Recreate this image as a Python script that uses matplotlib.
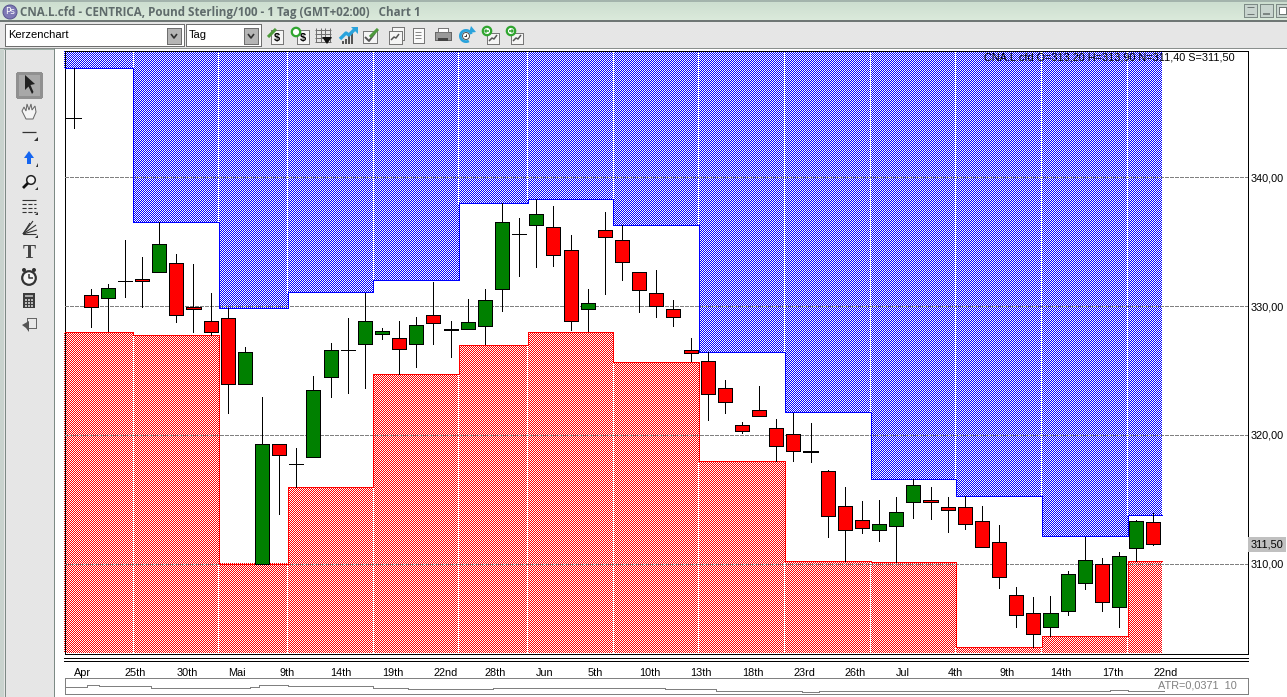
import numpy as np
import matplotlib
matplotlib.use("Agg")
import matplotlib.pyplot as plt
from matplotlib.patches import Rectangle, Polygon, Circle, Wedge
from matplotlib.transforms import blended_transform_factory

plt.rcParams['font.family'] = ['Liberation Sans', 'DejaVu Sans']

# ---------- data ----------
open_ = [344.63,330.88,330.65,331.97,332.11,332.67,333.36,329.93,328.86,329.09,323.96,310.00,319.30,317.75,318.26,324.48,
         326.60,327.04,327.85,327.54,327.04,329.32,328.25,328.24,328.47,331.34,335.62,336.32,336.16,334.37,329.79,335.93,
         335.15,332.67,331.03,329.79,326.60,325.75,323.65,320.78,321.94,320.54,320.08,318.77,317.20,314.48,313.40,312.62,
         312.93,314.79,314.95,314.41,314.41,313.32,311.69,307.57,306.17,305.08,306.32,308.50,309.98,306.64,311.22,313.20]
high_ = [348.48,331.29,331.68,335.10,333.85,336.52,334.01,333.31,330.98,329.89,326.86,322.90,319.30,318.94,324.53,327.17,
         329.11,330.98,328.26,328.88,329.19,331.91,328.88,330.59,331.29,338.00,336.86,338.34,337.74,335.49,331.29,337.35,
         336.34,332.67,332.77,330.51,327.56,326.45,324.22,321.01,323.83,321.19,321.68,320.88,317.30,315.98,314.82,314.97,
         315.13,316.55,315.98,315.13,315.21,314.43,313.03,308.14,307.36,307.51,309.43,312.07,310.39,310.93,313.40,313.90]
low_ = [343.82,328.34,328.03,330.69,329.91,332.67,328.75,327.95,327.79,321.68,323.96,310.00,313.81,315.93,318.26,322.92,
        323.23,323.62,327.43,324.76,325.25,327.04,326.03,328.24,327.02,329.60,332.32,333.02,333.10,328.13,328.03,330.92,
        332.01,329.53,329.14,328.44,325.70,321.13,321.68,320.16,321.48,317.98,318.00,317.87,312.04,310.23,312.35,311.73,
        310.13,313.52,313.44,312.43,312.67,311.30,308.08,305.05,303.53,304.38,305.98,308.00,306.29,305.05,310.21,311.40]
close_ = [344.63,329.95,331.42,331.97,331.95,334.84,329.32,329.77,327.97,323.96,326.45,319.30,318.41,317.75,323.50,326.60,
          326.60,328.86,328.08,326.68,328.55,328.70,328.17,328.78,330.49,336.55,335.62,337.17,333.99,328.86,330.26,335.38,
          333.44,331.27,330.02,329.17,326.37,323.19,322.56,320.31,321.48,319.15,318.76,318.69,313.71,312.62,312.77,313.08,
          314.02,316.11,314.79,314.17,313.08,311.30,308.97,306.01,304.54,306.17,309.20,310.29,307.02,310.60,313.32,311.50]

band_edges = [-0.53,3.5,8.5,12.5,17.5,22.5,26.5,31.5,36.5,41.5,46.5,51.5,56.5,61.5,63.5]
upper_band = [348.48,336.57,329.87,331.06,331.99,338.03,338.36,336.34,326.45,321.76,316.60,315.21,312.10,313.78]
lower_band = [328.00,327.77,310.00,315.93,324.74,326.99,328.00,325.67,317.98,310.20,310.12,303.53,304.38,310.21]

tick_labels = ['Apr','25th','30th','Mai','9th','14th','19th','22nd','28th','Jun','5th','10th','13th','18th','23rd',
               '26th','Jul','4th','9th','14th','17th','22nd']
price_ticks = [310,320,330,340]

atr_edges = [-0.53,0.3,0.8,1.5,4.5,10.3,10.8,12.5,17.5,19.5,22.5,24.5,34.5,37.5,42.5,43.5,49.5,60.5,61.5,63.6]
atr_values = [.0571,.0601,.0671,.0621,.0551,.0601,.0671,.0621,.0551,.0501,.0471,.0526,.0476,.0406,.0356,.0406,.0366,.0421,.0371]

W, H = 1287, 697
PX = 0.72
FS = 7.8
fig = plt.figure(figsize=(W/100, H/100), dpi=100, facecolor='white')

# ---------- window chrome ----------
bg = fig.add_axes([0, 0, 1, 1], zorder=0)
bg.set_xlim(0, W); bg.set_ylim(H, 0); bg.axis('off'); bg.autoscale(False)

def R(x, y, w, h, fc='none', ec='none', lw=PX, z=1):
    bg.add_patch(Rectangle((x, y), w, h, fc=fc, ec=ec, lw=lw, zorder=z, antialiased=False))
def L(xs, ys, c='k', lw=PX, z=2, aa=True, ls='-'):
    bg.plot(xs, ys, color=c, lw=lw, zorder=z, antialiased=aa, ls=ls, solid_capstyle='butt')
def P(pts, fc, ec='none', z=2, lw=PX):
    bg.add_patch(Polygon(pts, closed=True, fc=fc, ec=ec, lw=lw, zorder=z))
def C(x, y, r, fc='none', ec='none', lw=PX, z=2):
    bg.add_patch(Circle((x, y), r, fc=fc, ec=ec, lw=lw, zorder=z))

grad = np.linspace(0, 1, 20)[:, None, None] * (np.array([220, 235, 220]) - np.array([205, 222, 208])) + np.array([205, 222, 208])
bg.imshow(grad.astype(np.uint8), extent=(0, W, 21, 2), aspect='auto', zorder=1, interpolation='bilinear')
bg.set_xlim(0, W); bg.set_ylim(H, 0)
R(0, 0, W, 2, fc='#A3B3AC')
R(0, 21, W, 27, fc='#E6E6E6')
L([0, W], [20.5, 20.5], c='#6F7775', lw=1.4, aa=False)
L([0, W], [47.5, 47.5], c='#8A8F8D', lw=PX, aa=False)
R(0, 48, 54, H-48, fc='#E6E6E6')
R(0, 48, 4, H-48, fc='#C9D3CE')
L([4.5, 4.5], [48, H], c='#7D8A85', aa=False)
L([53.5, 53.5], [48, H], c='#7D8A85', aa=False)
L([4, 53], [48.5, 48.5], c='#9FB0A8', aa=False)

C(10, 12, 7, fc='#7E79B5', ec='#5A5690')
bg.text(10, 12, 'Ps', color='white', fontsize=6.5, ha='center', va='center', zorder=3, family='DejaVu Sans')
bg.text(20, 12.5, 'CNA.L.cfd - CENTRICA, Pound Sterling/100 - 1 Tag (GMT+02:00)   Chart 1', color='#5F6B6B',
        fontsize=8.35, fontweight='bold', ha='left', va='center', zorder=3, family='Open Sans')
for x in (1244, 1260, 1276):
    R(x, 4, 13, 13, fc='#C8D4CE', ec='#7D8A85', z=2)
L([1247, 1254], [7, 7], c='#6F7775'); L([1247, 1254], [14, 14], c='#6F7775')
L([1263, 1270], [13.5, 13.5], c='#6F7775', lw=1.2)
R(1279, 7, 7, 7, fc='white', ec='#6F7775', z=3)

# combo boxes
for x0, x1, bx, label in ((5, 184, 167, 'Kerzenchart'), (186, 261, 244, 'Tag')):
    R(x0, 24, x1-x0, 22, fc='white', ec='#6E6E6E', lw=PX)
    R(bx, 28, 14, 16, fc='#B5B5B5', ec='#6E6E6E')
    L([bx+4, bx+7, bx+10], [34, 38, 34], c='#303030', lw=1.2)
    bg.text(x0+3, 35, label, fontsize=8.0, va='center', ha='left', zorder=3)

# toolbar icons
def doc(x, y, w=12, h=14, fc='#F5F5F5'):
    R(x-w/2, y-h/2, w, h, fc=fc, ec='#777777', z=2)
def trend(x, y):
    L([x-4, x-1, x+1, x+4], [y+3, y, y+1, y-3], c='#555555', lw=1.1, z=3)
def ring(x, y):
    C(x, y, 4.2, fc='white', ec='#2FA52F', lw=1.6, z=4)

doc(277, 37); bg.text(277, 38, '$', fontsize=8, ha='center', va='center', fontweight='bold', zorder=4)
L([268, 276], [37, 29], c='#4E9A3C', lw=2.2, z=5)
doc(303, 37); bg.text(303, 38, '$', fontsize=8, ha='center', va='center', fontweight='bold', zorder=3); ring(296, 32)
for k in range(4):
    L([316+k*4.5, 316+k*4.5], [28, 42], c='#707070', z=2)
    L([315, 331], [30+k*4, 30+k*4], c='#707070', z=2)
P([(322, 37), (332, 37), (327, 44)], '#111111', z=3)
for k, hgt in enumerate((3, 5, 8, 11)):
    R(342+k*3, 44-hgt, 2, hgt, fc='#555555', z=2)
L([340, 346, 349, 355], [39, 33, 35, 29], c='#2AA3DC', lw=2.4, z=3)
P([(351, 27), (358, 27), (358, 34)], '#2AA3DC', z=3)
doc(370, 37, 14, 12); L([365, 369, 375], [37, 41, 33], c='#555555', lw=1.4, z=3); L([370, 378, ], [37, 29], c='#4E9A3C', lw=2.2, z=4)
doc(398, 33, 12, 13); doc(395, 37, 13, 13); trend(395, 37)
doc(418, 35, 11, 15, '#FAFAFA')
for yy in (32, 35, 38):
    L([415, 421], [yy, yy], c='#888888', z=3)
R(435, 32, 16, 8, fc='#9A9A9A', ec='#666666', z=2); R(438, 28, 10, 4, fc='white', ec='#777777', z=3); R(438, 38, 10, 3, fc='#444444', z=3)
bg.add_patch(Wedge((466, 36), 7, 60, 340, width=2.8, fc='#2AA3DC', zorder=3))
C(466, 36, 3.5, fc='white', ec='#555555', z=4); L([466, 466, 463.5], [33.5, 36, 36], c='#333333', z=5)
P([(471, 26), (476, 32), (469, 33)], '#2AA3DC', z=3)
for x, d in ((490, -1), (514, 1)):
    doc(x+3, 38, 12, 11); trend(x+3, 38); ring(x-3, 31)
    L([x-5, x-1], [31, 31], c='#2FA52F', lw=1.1, z=5)
    P([(x-3+d*3, 31), (x-3+d*0.5, 28.5), (x-3+d*0.5, 33.5)], '#2FA52F', z=5)

# tool palette
R(17, 73, 24, 24, fc='#A8A8A8', ec='#909090', lw=1.0)
P([(25, 75), (25, 90), (28.5, 86.5), (32, 94), (33.5, 92), (30.5, 85), (35, 84)], '#202020', z=3)
P([(22, 111), (24, 107), (26, 111), (27, 104), (29, 110), (31, 104), (32, 110), (35, 106), (36, 112), (33, 119), (26, 119)],
  '#F4F4F4', ec='#666666', z=3)
L([22, 36], [132, 132], c='#333333', lw=0.9)
P([(34, 141), (38, 141), (38, 137)], '#333333')
P([(29, 151), (34, 158), (31, 158), (31, 164), (27, 164), (27, 158), (24, 158)], '#1565F0')
P([(36, 167), (38, 167), (38, 163)], '#333333')
C(31, 180, 4.3, fc='#F2F2F2', ec='#222222', lw=1.1); L([23, 28], [188, 183], c='#111111', lw=2)
P([(35, 190), (38, 190), (38, 187)], '#333333')
for yy, ls in ((200, '-'), (204, '--'), (208, '--'), (212, '--')):
    L([22, 36], [yy, yy], c='#333333', ls=ls, lw=0.8)
P([(35, 215), (38, 215), (38, 212)], '#333333')
for a, b in ((33, 221), (36, 225), (37, 230), (36, 234), (30, 223)):
    L([23, a], [234, b], c='#333333', lw=0.8)
P([(35, 238), (38, 238), (38, 235)], '#333333')
bg.text(29, 254, 'T', family='Liberation Serif', fontsize=14, fontweight='bold', color='#444444', ha='center', va='center', zorder=3)
C(29, 278, 6.8, fc='#F4F4F4', ec='#333333', lw=1.6); L([29, 29, 33], [274, 278, 278], c='#333333', lw=1.1, z=3)
C(24, 270, 2, fc='#333333'); C(34, 270, 2, fc='#333333')
R(23, 293, 12, 15, fc='#3C3C3C')
R(25, 295, 8, 2, fc='#AAAAAA', z=2)
for r_ in range(3):
    for c_ in range(3):
        R(25+c_*3, 299+r_*3, 2, 2, fc='#BBBBBB', z=2)
R(27, 318, 9, 10, fc='#E8E8E8', ec='#666666')
P([(22, 325), (29, 321), (29, 332), (26, 328)], '#555555', z=3)

# panel frame lines below the chart
L([64, 1248], [657.5, 657.5], c='k', aa=False)
L([64, 1248], [660.5, 660.5], c='k', aa=False)

# ---------- main chart ----------
XL, XR, YT, YB = 64.5, 1247.5, 50.5, 653.5
ax = fig.add_axes([XL/W, 1-YB/H, (XR-XL)/W, (YB-YT)/H], zorder=2)
ax.patch.set_visible(False)
STEP = 17.14
xlim = (-(73.5-XL)/STEP, (XR-73.5)/STEP)
ylim = (310-(YB-563.5)/12.87, 310+(563.5-YT)/12.87)
ax.set_xlim(*xlim); ax.set_ylim(*ylim); ax.autoscale(False)

def checker(e0, e1, lo, hi, rgb):
    (px0, py0) = ax.transData.transform((e0, lo))
    (px1, py1) = ax.transData.transform((e1, hi))
    px0, px1, py0, py1 = map(lambda v: int(round(v)), (px0, px1, py0, py1))
    if py1 <= py0 or px1 <= px0:
        return
    Y, X = np.mgrid[py0:py1, px0:px1]
    arr = np.ones((py1-py0, px1-px0, 3), dtype=np.uint8) * 255
    arr[(X+Y) % 2 == 1] = rgb
    fig.figimage(arr, xo=px0, yo=py0, origin='lower', zorder=1, resize=False)

n_seg = len(upper_band)
for k in range(n_seg):
    checker(band_edges[k], band_edges[k+1], upper_band[k], ylim[1], (0, 0, 255))
    checker(band_edges[k], band_edges[k+1], ylim[0], lower_band[k], (255, 0, 0))

# white dotted separators inside the hatched zones
for k in range(1, n_seg):
    e = band_edges[k] - 0.05
    ax.vlines(e, max(upper_band[k-1], upper_band[k]), ylim[1], colors='white', lw=PX, zorder=1.5,
              linestyles=(0, (1, 1)), antialiased=False)
    ax.vlines(e, ylim[0], min(lower_band[k-1], lower_band[k]), colors='white', lw=PX, zorder=1.5,
              linestyles=(0, (1, 1)), antialiased=False)

# grid
ax.set_yticks(price_ticks)
ax.set_yticklabels([f'{p},00' for p in price_ticks])
ax.yaxis.tick_right()
ax.set_axisbelow(False)
ax.grid(axis='y', color='#808080', lw=PX, linestyle=(0, (4, 2)), zorder=2.5, antialiased=False)
ax.grid(axis='x', visible=False)
ax.set_xticks(np.arange(len(tick_labels))*3)
ax.set_xticklabels(tick_labels, ha='left')
ax.tick_params(axis='both', length=0, labelsize=FS, labelcolor='black')
ax.tick_params(axis='x', pad=10.2)
ax.tick_params(axis='y', pad=2)

# band outlines
ax.stairs(upper_band, band_edges, color='#0000FF', lw=PX, zorder=3, baseline=None, antialiased=False)
ax.stairs(lower_band, band_edges, color='#FF0000', lw=PX, zorder=3, baseline=None, antialiased=False)

# candles
xs = np.arange(len(open_))
o, h, l, c = map(np.array, (open_, high_, low_, close_))
ax.vlines(xs, l, h, colors='k', lw=PX, zorder=4, antialiased=False)
cols = np.where(c > o, '#008000', '#FF0000')
ax.bar(xs, c-o, bottom=o, width=0.82, color=cols, edgecolor='k', lw=PX, zorder=5, antialiased=False)

for s in ax.spines.values():
    s.set_color('k'); s.set_linewidth(PX)

# header and last price
tr = blended_transform_factory(ax.transAxes, ax.transData)
fig.text(1235/W, 1-58/H, 'CNA.L.cfd O=313,20 H=313,90 N=311,40 S=311,50', fontsize=FS, ha='right', va='center',
         color='black', zorder=10)
ax.text(1.0026, close_[-1], '311,50', transform=tr, fontsize=FS, va='center', ha='left', clip_on=False, zorder=6,
        bbox=dict(fc='#C0C0C0', ec='none', pad=1.8))

# ---------- ATR panel ----------
ax2 = fig.add_axes([XL/W, 1-694/H, (XR-XL)/W, 16/H], zorder=2, facecolor='white')
ax2.set_xlim(*xlim); ax2.set_ylim(.0236, .1036)
ax2.stairs(atr_values, atr_edges, color='#808080', lw=PX, baseline=None, antialiased=False)
ax2.set_xticks([]); ax2.set_yticks([])
for s in ax2.spines.values():
    s.set_color('#808080'); s.set_linewidth(PX)
ax2.text(0.991, 0.5, 'ATR=0,0371  10', transform=ax2.transAxes, ha='right', va='center', fontsize=FS, color='#808080')

fig.savefig('out.png', dpi=100, facecolor='white')
